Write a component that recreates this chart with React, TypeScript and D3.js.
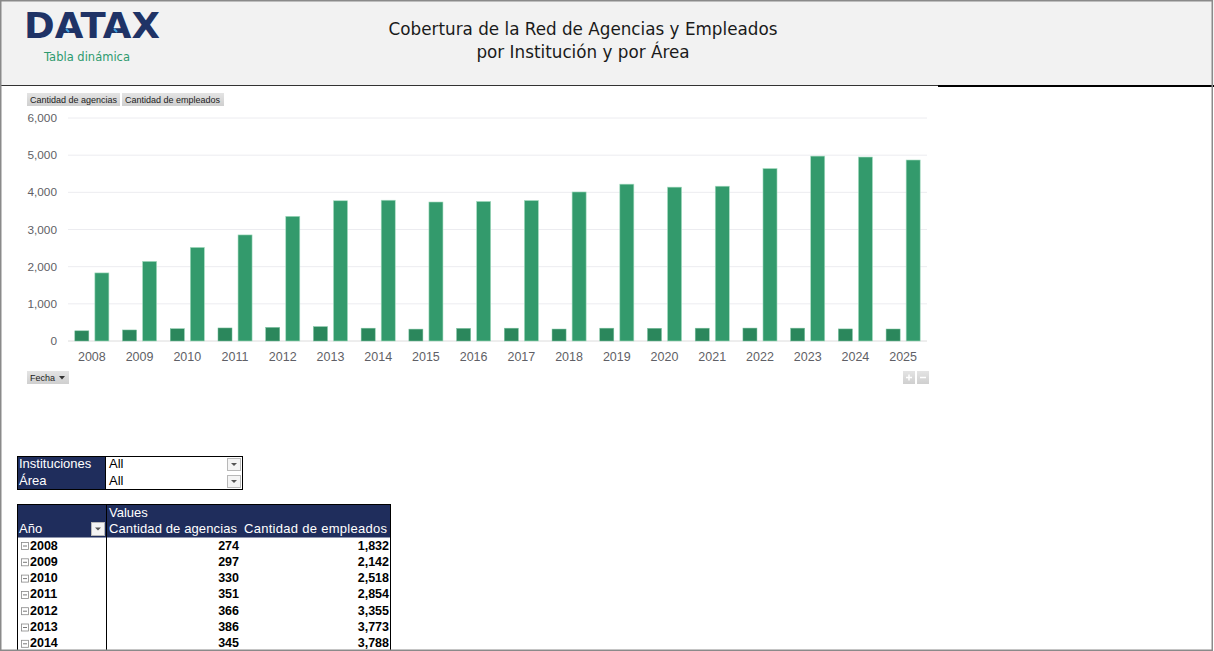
import * as d3 from 'd3'
import { type ReactElement } from 'react'

const years = [
  '2008', '2009', '2010', '2011', '2012', '2013', '2014', '2015', '2016',
  '2017', '2018', '2019', '2020', '2021', '2022', '2023', '2024', '2025',
]
const agencias = [274, 297, 330, 351, 366, 386, 345, 320, 340, 345, 322, 345, 342, 345, 348, 346, 325, 323]
const empleados = [1832, 2142, 2518, 2854, 3355, 3773, 3788, 3740, 3755, 3780, 4010, 4220, 4140, 4165, 4640, 4975, 4950, 4870]
const yTicks = [0, 1000, 2000, 3000, 4000, 5000, 6000]
const seriesNames = ['Cantidad de agencias', 'Cantidad de empleados']

const width = 1214
const height = 651
const navy = '#1f2d5c'
const uiFont = '"Liberation Sans", Arial, sans-serif'
const titleFont = '"DejaVu Sans", sans-serif'

function GrayButton({ x, y, w, label, arrow }: { x: number; y: number; w: number; label: string; arrow?: boolean }): ReactElement {
  return (
    <g>
      <rect x={x} y={y} width={w} height={13} fill="url(#btnGrad)" />
      <text x={x + 3} y={y + 9.5} fontSize={9} fontFamily={uiFont} fill="#222">
        {label}
      </text>
      {arrow && <path d={`M${x + w - 10},${y + 5} h6 l-3,3.5 z`} fill="#333" />}
    </g>
  )
}

export default function App(): ReactElement {
  const fmt = d3.format(',')
  const x = d3.scaleBand<string>().domain(years).range([68, 927])
  const inner = d3
    .scaleBand<string>()
    .domain(seriesNames)
    .range([0, x.bandwidth()])
    .paddingInner(0.3)
    .paddingOuter(0.34)
  const y = d3.scaleLinear().domain([0, 6000]).range([341, 118])

  const rowY = d3.scaleLinear().domain([0, 1]).range([537, 553.3])
  // only the rows that fit in the window are visible
  const visibleRows = years.map((yr, i) => ({ yr, i })).filter((r) => rowY(r.i) + 13 < height)

  return (
    <div style={{ position: 'fixed', left: 0, top: 0 }}>
      <svg width={width} height={height} style={{ display: 'block', background: '#fff' }}>
        <defs>
          <linearGradient id="btnGrad" x1="0" y1="0" x2="0" y2="1">
            <stop offset="0" stopColor="#e4e4e4" />
            <stop offset="1" stopColor="#cfcfcf" />
          </linearGradient>
        </defs>

        {/* header */}
        <rect x={0} y={0} width={width} height={85} fill="#f2f2f2" />
        <line x1={0} x2={938} y1={85.5} y2={85.5} stroke="#333" strokeWidth={1} />
        <line x1={938} x2={width} y1={86} y2={86} stroke="#000" strokeWidth={2} />
        <text
          x={24}
          y={38}
          fontSize={36}
          fontWeight="bold"
          fontFamily={titleFont}
          fill="#1f3366"
          textLength={136}
          lengthAdjust="spacingAndGlyphs"
        >
          DATAX
        </text>
        <path d="M66,29 l3,3 M114,29 l3,3" stroke="#3aa0e0" strokeWidth={2} />
        <text x={44} y={61} fontSize={11.5} fontFamily={titleFont} fill="#2e9a6e">
          Tabla dinámica
        </text>
        <text x={583} y={35} textAnchor="middle" fontSize={16.8} fontFamily={titleFont} fill="#1a1a1a">
          Cobertura de la Red de Agencias y Empleados
        </text>
        <text x={583} y={58} textAnchor="middle" fontSize={16.8} fontFamily={titleFont} fill="#1a1a1a">
          por Institución y por Área
        </text>

        {/* chart */}
        <GrayButton x={27} y={93} w={93} label={seriesNames[0]} />
        <GrayButton x={122} y={93} w={102} label={seriesNames[1]} />

        {yTicks.map((t) => (
          <g key={t}>
            <line x1={68} x2={927} y1={y(t)} y2={y(t)} stroke={t === 0 ? '#dcdcdc' : '#ececf0'} strokeWidth={1} />
            <text x={57} y={y(t) + 4} textAnchor="end" fontSize={11.8} fontFamily={uiFont} fill="#5f5f66">
              {fmt(t)}
            </text>
          </g>
        ))}

        {years.map((yr, i) => {
          const bx = x(yr) ?? 0
          return (
            <g key={yr}>
              <rect
                x={bx + (inner(seriesNames[0]) ?? 0)}
                y={y(agencias[i])}
                width={inner.bandwidth()}
                height={y(0) - y(agencias[i])}
                fill="#2b875c"
                stroke="#7fc4a2"
                strokeWidth={0.5}
              />
              <rect
                x={bx + (inner(seriesNames[1]) ?? 0)}
                y={y(empleados[i])}
                width={inner.bandwidth()}
                height={y(0) - y(empleados[i])}
                fill="#339a6c"
                stroke="#a6dcc0"
                strokeWidth={0.6}
              />
              <text
                x={bx + x.bandwidth() / 2}
                y={361}
                textAnchor="middle"
                fontSize={12.5}
                fontFamily={uiFont}
                fill="#5f5f66"
              >
                {yr}
              </text>
            </g>
          )
        })}

        <GrayButton x={27} y={371} w={42} label="Fecha" arrow />
        <rect x={903} y={371} width={12} height={13} fill="url(#btnGrad)" />
        <path d="M906,377.5 h6 M909,374.5 v6" stroke="#fff" strokeWidth={1.5} />
        <rect x={917} y={371} width={12} height={13} fill="url(#btnGrad)" />
        <path d="M920,377.5 h6" stroke="#fff" strokeWidth={1.5} />

        {/* slicers */}
        <rect x={17.5} y={456.5} width={88} height={33} fill={navy} />
        <rect x={105.5} y={456.5} width={137} height={33} fill="#fff" stroke="#000" />
        <rect x={17.5} y={456.5} width={225} height={33} fill="none" stroke="#000" />
        {['Instituciones', 'Área'].map((lbl, i) => (
          <g key={lbl}>
            <text x={19} y={468 + i * 17} fontSize={13} fontFamily={uiFont} fill="#fff">
              {lbl}
            </text>
            <text x={109} y={468 + i * 17} fontSize={13} fontFamily={uiFont} fill="#000">
              All
            </text>
            <rect x={227.5} y={458.5 + i * 17} width={13} height={12} fill="#f4f4f4" stroke="#b8b8b8" />
            <path d={`M231,${463 + i * 17} h6 l-3,3 z`} fill="#555" />
          </g>
        ))}

        {/* pivot table */}
        <rect x={17.5} y={504.5} width={373} height={33} fill={navy} />
        <text x={109} y={517} fontSize={13} fontFamily={uiFont} fill="#fff">
          Values
        </text>
        <text x={19} y={533} fontSize={13} fontFamily={uiFont} fill="#fff">
          Año
        </text>
        <rect x={91.5} y={522.5} width={13} height={13} fill="#f4f4f4" stroke="#b8b8b8" />
        <path d="M95,527.5 h6 l-3,3 z" fill="#555" />
        <text x={109} y={533} fontSize={13} fontFamily={uiFont} fill="#fff" textLength={128}>
          {seriesNames[0]}
        </text>
        <text x={244} y={533} fontSize={13} fontFamily={uiFont} fill="#fff" textLength={143}>
          {seriesNames[1]}
        </text>
        <line x1={17.5} x2={17.5} y1={504} y2={height} stroke="#000" />
        <line x1={106.5} x2={106.5} y1={504} y2={height} stroke="#000" />
        <line x1={390.5} x2={390.5} y1={504} y2={height} stroke="#000" />
        <line x1={17} x2={391} y1={504.5} y2={504.5} stroke="#000" />
        {visibleRows.map(({ yr, i }) => {
          const top = rowY(i)
          return (
            <g key={yr}>
              <rect x={21.5} y={top + 5.5} width={7} height={7} fill="#fff" stroke="#888" strokeWidth={0.8} />
              <line x1={23} x2={27} y1={top + 9} y2={top + 9} stroke="#555" strokeWidth={0.8} />
              <text x={30} y={top + 12.5} fontSize={12.5} fontWeight="bold" fontFamily={uiFont} fill="#000">
                {yr}
              </text>
              <text x={239} y={top + 12.5} textAnchor="end" fontSize={12.5} fontWeight="bold" fontFamily={uiFont} fill="#000">
                {fmt(agencias[i])}
              </text>
              <text x={389} y={top + 12.5} textAnchor="end" fontSize={12.5} fontWeight="bold" fontFamily={uiFont} fill="#000">
                {fmt(empleados[i])}
              </text>
            </g>
          )
        })}

        {/* page frame */}
        <rect x={0.75} y={0.75} width={width - 2.5} height={height - 1.5} fill="none" stroke="#8a8a8a" strokeWidth={1.5} />
      </svg>
    </div>
  )
}
